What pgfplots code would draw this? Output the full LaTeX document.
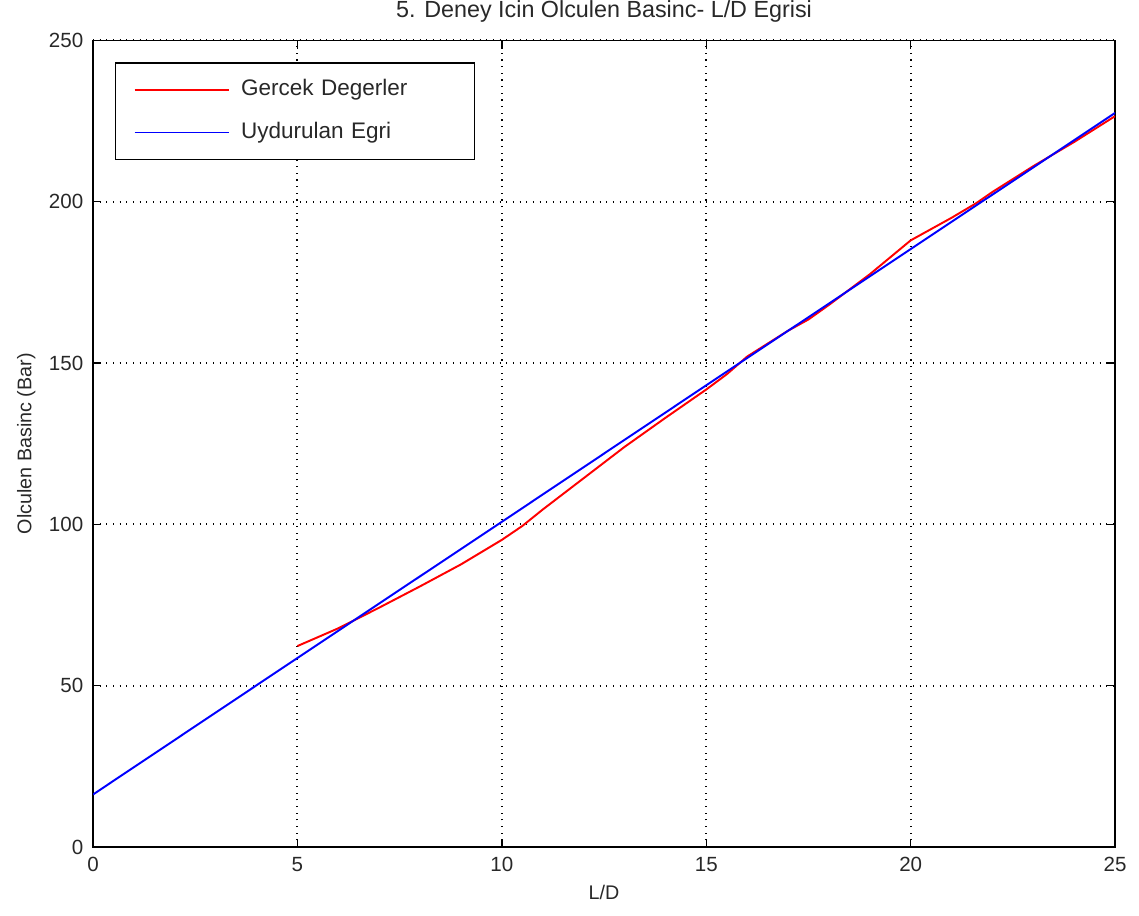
\documentclass[border=0pt]{standalone}
\usepackage{fontspec}
\setmainfont{Liberation Sans}
\usepackage{pgfplots}
\pgfplotsset{compat=1.18}
\definecolor{txt}{RGB}{40,40,40}

\begin{document}
\begin{tikzpicture}
\path[use as bounding box] (-33.5pt,-24.5pt) rectangle (376.6pt,305pt);
\begin{axis}[
  scale only axis,
  width=368pt, height=290.5pt,
  xmin=0, xmax=25, ymin=0, ymax=250,
  xtick={0,5,...,25}, ytick={0,50,...,250},
  tick align=inside, major tick length=3pt,
  xtick pos=both, ytick pos=both,
  grid=major, grid style={dotted, black, line width=0.7pt},
  axis line style={black, line width=0.5pt},
  every tick/.style={black, line width=0.5pt},
  tick label style={font=\fontsize{7.4}{9}\selectfont, text=txt},
  /pgf/number format/assume math mode=true,
  xlabel={L/D}, ylabel={Olculen Basinc (Bar)},
  label style={font=\fontsize{7.1}{9}\selectfont, text=txt},
  xlabel style={yshift=2pt},
  ylabel style={yshift=-2pt},
  title={5. Deney Icin Olculen Basinc- L/D Egrisi},
  title style={font=\fontsize{8.4}{10}\selectfont, text=txt, yshift=-3.2pt},
  legend style={at={(rel axis cs:0,1)}, anchor=north west, xshift=7.9pt, yshift=-7.9pt,
    draw=black, line width=0.5pt, font=\fontsize{8.1}{10}\selectfont, text=txt,
    inner xsep=6.5pt, inner ysep=4pt, row sep=4pt,
    nodes={text width=75.5pt, align=left}},
  /tikz/every odd column/.append style={column sep=2pt},
  legend cell align=left,
  legend image code/.code={\draw[#1, line width=0.7pt] (0pt,0pt) -- (34pt,0pt);},
]
\addplot[color=red, line width=0.7pt] coordinates {
(5,62.3)(6,67.8)(7,74.2)(8,80.8)(9,87.6)(10,95.2)(10.5,99.5)(11,104.6)
(12,114.3)(13,124)(14,133)(15,141.8)(15.5,146.5)(16,152)(17,160)
(17.5,163.5)(18,168)(19,177.5)(20,188)(21,195)(21.6,199.5)(22,203)
(23,211)(24,218.5)(25,226.5)
};
\addplot[color=blue, line width=0.7pt] coordinates {
(0,16.3)(5,58.6)(10,100.8)(15,143.1)(20,185.3)(25,227.5)
};
\legend{Gercek Degerler, Uydurulan Egri}
\end{axis}
\end{tikzpicture}
\end{document}
